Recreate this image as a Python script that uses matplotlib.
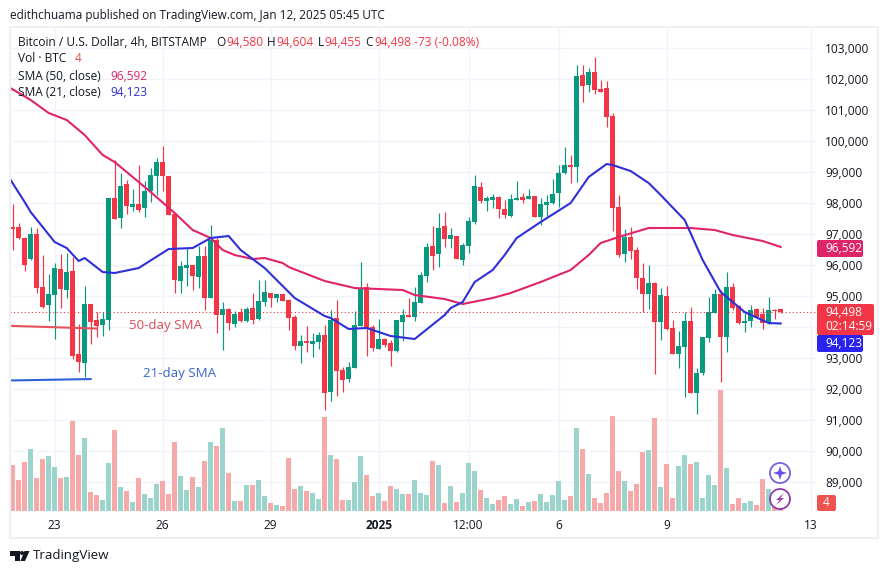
import matplotlib
matplotlib.use('Agg')
import matplotlib.pyplot as plt
from matplotlib.patches import Rectangle, Circle, Polygon, FancyBboxPatch

plt.rcParams['font.family'] = ['Open Sans', 'DejaVu Sans']

GREEN = '#089981'
RED = '#f23645'
TXT = '#131722'
GRID = '#f0f3fa'
CRIMSON = '#e0246a'
BLUE = '#2f2fd8'

opens = [97210, 97235, 96880, 96203, 97010, 95300, 94720, 95042, 95881, 95204, 95816, 93140, 92849, 94752, 94236, 94075,
         94236, 98172, 97526, 98623, 97881, 97978, 97849, 98397, 98881, 99332, 98881, 97655, 95494, 95913, 96010, 95623,
         96300, 94945, 96816, 94397, 94591, 94107, 94494, 94204, 94623, 94268, 94817, 95107, 94945, 95074, 94881, 94333,
         93398, 93559, 93463, 93527, 93753, 91914, 94301, 92624, 92334, 92688, 94043, 95301, 94011, 93301, 93624, 93495,
         93237, 94172, 94398, 94333, 94785, 95656, 96623, 96365, 97268, 96849, 96945, 96172, 96623, 97397, 98526, 98074,
         98106, 98203, 97816, 97590, 98106, 98203, 98139, 98236, 97558, 97945, 98010, 98333, 98978, 99236, 99172, 102128,
         101817, 102236, 101688, 101720, 100817, 97881, 96365, 96914, 96494, 95590, 95074, 95429, 94171, 95010, 93978, 93139,
         93365, 94204, 91882, 92527, 93655, 94462, 95074, 93688, 95300, 94687, 94139, 94204, 94591, 94429, 94139, 94560,
         94580]
highs = [97977, 97354, 96900, 97225, 97192, 96332, 95720, 96063, 96364, 96386, 96278, 94107, 95332, 94760, 94494, 94494,
         98180, 99397, 98978, 98752, 98462, 99236, 98720, 99139, 99461, 99848, 98890, 97680, 96139, 96547, 96020, 96622,
         96622, 97300, 96880, 94817, 94625, 94526, 94623, 94655, 95107, 95526, 95526, 95120, 95090, 95090, 94900, 94397,
         93753, 94043, 93807, 93839, 94075, 94559, 94882, 92721, 92882, 94527, 96107, 95430, 94075, 94269, 93640, 93590,
         94250, 94591, 94946, 95301, 95785, 96720, 97268, 97687, 97720, 97204, 96960, 96720, 97558, 98913, 98687, 98236,
         98300, 98236, 98106, 98300, 98719, 98322, 98461, 98250, 98171, 98268, 98784, 99236, 99816, 99558, 102462, 102462,
         102354, 102720, 101978, 101946, 100914, 98268, 97172, 97236, 96591, 96074, 96010, 95470, 95268, 95332, 94236, 93881,
         94494, 94655, 92688, 93700, 94978, 95236, 95203, 95784, 95429, 94720, 94494, 94720, 94610, 94623, 94978, 94591,
         94604]
lows = [96493, 96837, 95827, 96180, 95096, 94623, 94204, 93623, 94623, 94945, 92978, 92559, 92398, 93462, 93688, 93720,
        93913, 97480, 97204, 97655, 97752, 97720, 97559, 98042, 98268, 98397, 97610, 95107, 95107, 95332, 95204, 95268,
        94558, 94930, 93817, 93268, 93913, 94010, 94170, 94170, 94107, 94236, 94687, 94655, 94817, 94840, 93913, 93268,
        92850, 93204, 93043, 93301, 91334, 91624, 91785, 91914, 92237, 92680, 94030, 93075, 93237, 93290, 93366, 92753,
        93205, 93559, 94320, 94204, 94775, 95462, 95849, 95946, 96591, 96559, 96190, 96010, 96397, 97333, 98010, 97752,
        97848, 97526, 97526, 97558, 98095, 98020, 98130, 97545, 97300, 97590, 97977, 97881, 98950, 98655, 98700, 101268,
        101591, 101526, 101580, 100462, 97108, 96280, 96107, 96204, 95237, 94494, 94591, 92494, 93591, 93900, 93130, 92688,
        91753, 91870, 91204, 92462, 93526, 94450, 92236, 93204, 94555, 94107, 93849, 94010, 94320, 93946, 94107, 94268,
        94455]
closes = [97180, 96880, 96010, 97010, 95268, 94655, 95074, 95913, 95236, 95784, 93075, 92882, 94752, 94171, 94042, 94268,
          98171, 97494, 98558, 97914, 97978, 97784, 98397, 98913, 99332, 98881, 97623, 95526, 95977, 96010, 95655, 96300,
          94945, 96816, 94397, 94591, 94139, 94430, 94204, 94591, 94236, 94849, 95139, 94945, 95074, 94849, 94300, 93398,
          93559, 93500, 93559, 93753, 91882, 94236, 92592, 92301, 92721, 94075, 95269, 93979, 93334, 93624, 93430, 93237,
          94236, 94398, 94333, 94817, 95688, 96591, 96300, 97204, 96849, 96978, 96204, 96655, 97429, 98558, 98074, 98171,
          98203, 97816, 97623, 98139, 98171, 98106, 98236, 97558, 97977, 98042, 98300, 98978, 99236, 99171, 102107, 101795,
          102236, 101655, 101591, 100785, 97850, 96333, 96914, 96462, 95590, 95074, 95429, 94171, 95042, 93946, 93139, 93397,
          94204, 91882, 92527, 93688, 94494, 95074, 93688, 95300, 94623, 94139, 94204, 94558, 94333, 94139, 94558, 94520,
          94498]
volumes = [45.7, 30.7, 48.7, 61.7, 32.7, 51.7, 54.7, 43.7, 32.7, 33.7, 89.7, 55.7, 72.7, 18.7, 15.7, 10.7,
           47.7, 80.7, 23.7, 19.7, 8.7, 32.7, 16.7, 12.7, 26.7, 29.7, 16.7, 68.7, 34.7, 20.7, 33.7, 23.7,
           49.7, 68.7, 64.7, 82.7, 37.7, 9.7, 9.7, 25.7, 25.7, 30.7, 14.7, 7.7, 5.7, 4.7, 52.7, 21.7,
           24.7, 19.7, 17.7, 11.7, 93.7, 55.7, 51.7, 10.7, 10.7, 28.7, 54.7, 35.7, 14.7, 17.7, 9.7, 24.7,
           21.7, 16.7, 16.7, 30.7, 17.7, 15.7, 49.7, 45.7, 7.7, 24.7, 8.7, 17.7, 47.7, 39.7, 20.7, 12.7,
           6.7, 10.7, 14.7, 6.7, 11.7, 4.7, 8.7, 9.7, 16.7, 8.7, 15.7, 29.7, 10.7, 14.7, 82.7, 62,
           37, 13, 8, 18, 95, 40, 30, 20, 27, 59, 61, 93, 24, 47, 13, 45,
           56, 47, 49, 13, 36, 26, 121, 43, 7, 13, 8, 10, 6, 32, 22, 6,
           3]

sma50_bars = [-1, 3, 6, 9, 12, 15, 17, 20, 23, 27, 30, 33, 35, 37, 40, 42, 45, 46, 52, 57, 61, 65, 67, 72, 75, 80, 83,
              88, 93, 96, 98, 101, 106, 113, 117, 120, 125, 128]
sma50_vals = [101790, 101332, 100913, 100687, 100203, 99558, 99332, 98848, 98364, 97687, 97138, 96880, 96493, 96332,
              96203, 96235, 96074, 95945, 95493, 95267, 95235, 95203, 95041, 94912, 94751, 94945, 95106, 95461, 95848,
              96332, 96719, 96913, 97203, 97203, 97138, 96977, 96784, 96592]
sma21_bars = [-1, 2, 3, 7, 9, 11, 12, 15, 17, 21, 26, 30, 33, 36, 38, 42, 47, 52, 53, 56, 59, 63, 67, 72, 73, 75, 77,
              80, 82, 84, 88, 93, 96, 99, 100, 103, 106, 108, 112, 115, 118, 120, 122, 126, 128]
sma21_vals = [98950, 98042, 97719, 96751, 96558, 96138, 96235, 95783, 95751, 95912, 96525, 96558, 96880, 96945, 96493,
              95912, 94945, 94364, 94300, 93945, 93977, 93719, 93622, 94396, 94622, 94816, 95461, 95848, 96332, 96880,
              97396, 98009, 98848, 99267, 99235, 99041, 98654, 98267, 97461, 96170, 95138, 94816, 94493, 94138, 94123]

# lines the author drew by hand on the chart
note50_bars = [-1, 14]
note50_vals = [94050, 93960]
note21_bars = [-1, 13]
note21_vals = [92283, 92330]

price_ticks = list(range(89000, 103001, 1000))
time_ticks = [7, 25, 43, 61, 76, 91, 109, 133]
time_labels = ['23', '26', '29', '2025', '12:00', '6', '9', '13']

W, H = 888, 574
fig = plt.figure(figsize=(W / 100, H / 100), dpi=100, facecolor='white')
L, R, T, B = 10, 816, 28, 511
ax = fig.add_axes([L / W, (H - B) / H, (R - L) / W, (B - T) / H])
bars = list(range(len(closes)))
ax.set_xlim((L - 12.67) / 6, (R - 12.67) / 6)
ax.set_ylim(103000 - (B - 48.3) / 0.031, 103000 + (48.3 - T) / 0.031)
for s in ax.spines.values():
    s.set_visible(False)
ax.set_axisbelow(True)
ax.grid(color=GRID, lw=1)
ax.set_yticks(price_ticks)
# 94,000 sits behind the last price badge in the original
ax.set_yticklabels(['' if p == 94000 else f'{p:,}' for p in price_ticks], color=TXT, fontsize=8.6)
ax.set_xticks(time_ticks)
ax.set_xticklabels(time_labels, color=TXT, fontsize=8.6)
ax.tick_params(axis='x', length=0, pad=5.5)
ax.get_xticklabels()[3].set_fontweight('bold')

colors = [GREEN if c >= o else RED for o, c in zip(opens, closes)]
vol_colors = ['#9ad4cc' if c == GREEN else '#f6a9a9' for c in colors]

# volume sits in its own scale at the foot of the pane
ax2 = ax.twinx()
ax2.set_ylim(0, B - T)
ax2.axis('off')
ax2.bar(bars, volumes, width=0.82, color=vol_colors, lw=0)

ax3 = ax.twinx()
ax3.set_ylim(ax.get_ylim())
ax3.axis('off')
ax3.axhline(closes[-1], color=RED, lw=0.8, ls=(0, (1, 2.2)))
ax3.vlines(bars, lows, highs, colors=colors, lw=0.85)
bottoms = [min(o, c) for o, c in zip(opens, closes)]
heights = [max(abs(o - c), 40) for o, c in zip(opens, closes)]
ax3.bar(bars, heights, bottom=bottoms, width=0.82, color=colors, lw=0)
ax3.plot(sma50_bars, sma50_vals, color=CRIMSON, lw=1.5, solid_joinstyle='round')
ax3.plot(sma21_bars, sma21_vals, color=BLUE, lw=1.5, solid_joinstyle='round')
ax3.plot(note50_bars, note50_vals, color='#e8505b', lw=1.5)
ax3.plot(note21_bars, note21_vals, color='#2f62d9', lw=1.5)

# twinx moved the ticks to the left, put them back on the price scale
ax.yaxis.tick_right()
ax.tick_params(axis='y', length=0, pad=6.5)

# overlay in pixel coordinates for frame, header, badges
deco = fig.add_axes([0, 0, 1, 1], facecolor='none')
deco.set_xlim(0, W)
deco.set_ylim(H, 0)
deco.axis('off')
deco.add_patch(Rectangle((10, 27), 868, 511, fill=False, ec='#eef0f3', lw=1.5))


def txt(x, y, s, color=TXT, size=8.6, **kw):
    deco.text(x, y, s, color=color, fontsize=size, va='center', **kw)


txt(10, 15, 'edithchuama published on TradingView.com, Jan 12, 2025 05:45 UTC', size=8.45)
txt(18, 42, 'Bitcoin / U.S. Dollar, 4h, BITSTAMP')
header = [(216, 'O', TXT), (226, '94,580', RED), (267, 'H', TXT), (276, '94,604', RED), (318, 'L', TXT),
          (324, '94,455', RED), (365, 'C', TXT), (374, '94,498', RED), (414, '-73 (-0.08%)', RED)]
for x, s, c in header:
    txt(x, 42, s, c)
txt(18, 59, 'Vol \u00b7 BTC')
txt(75, 59, '4', '#e04f4f')
txt(18, 76, 'SMA (50, close)')
txt(110, 76, '96,592', CRIMSON)
txt(18, 93, 'SMA (21, close)')
txt(110, 93, '94,123', BLUE)
txt(129, 326, '50-day SMA', '#dc4a57', 9.6)
txt(143, 374, '21-day SMA', '#3565cc', 9.6)


def badge(x0, y0, x1, y1, c):
    deco.add_patch(FancyBboxPatch((x0 + 1, y0 + 1), x1 - x0 - 2, y1 - y0 - 2, boxstyle='round,pad=1,rounding_size=2',
                                  fc=c, ec='none'))


badge(817, 240, 863, 257, '#e0246a')
txt(825, 248.5, '96,592', 'white')
badge(817, 304, 874, 335, RED)
txt(825, 312, '94,498', 'white')
txt(825, 326, '02:14:59', 'white')
badge(817, 335, 863, 352, '#2a22ee')
txt(825, 343.5, '94,123', 'white')
badge(817, 495, 836, 511, '#ef5350')
txt(826.5, 503, '4', 'white', ha='center')

# the two round event markers
deco.add_patch(Circle((780, 473), 10, fc='white', ec='#7a5fe0', lw=1.3))
deco.add_patch(Polygon([(780, 466), (781.7, 471.3), (787, 473), (781.7, 474.7), (780, 480), (778.3, 474.7), (773, 473),
                        (778.3, 471.3)], fc='#6a4ff0', ec='none'))
deco.add_patch(Circle((780, 499), 10, fc='white', ec='#8e3ba8', lw=1.3))
deco.add_patch(Polygon([(784, 493), (776, 500), (779.5, 500), (776, 505), (784, 498), (780.5, 498)], fc='#9a3fb0',
                       ec='none'))

# TradingView logo
deco.add_patch(Polygon([(10, 551), (19.5, 551), (19.5, 561), (15, 561), (15, 555.5), (10, 555.5)], fc=TXT, ec='none'))
deco.add_patch(Circle((22, 553), 2, fc=TXT, ec='none'))
deco.add_patch(Polygon([(24.5, 551), (29.5, 551), (25, 561), (20.5, 561)], fc=TXT, ec='none'))
txt(33, 556, 'TradingView', TXT, 9.6)

plt.savefig('out.png', dpi=100)
